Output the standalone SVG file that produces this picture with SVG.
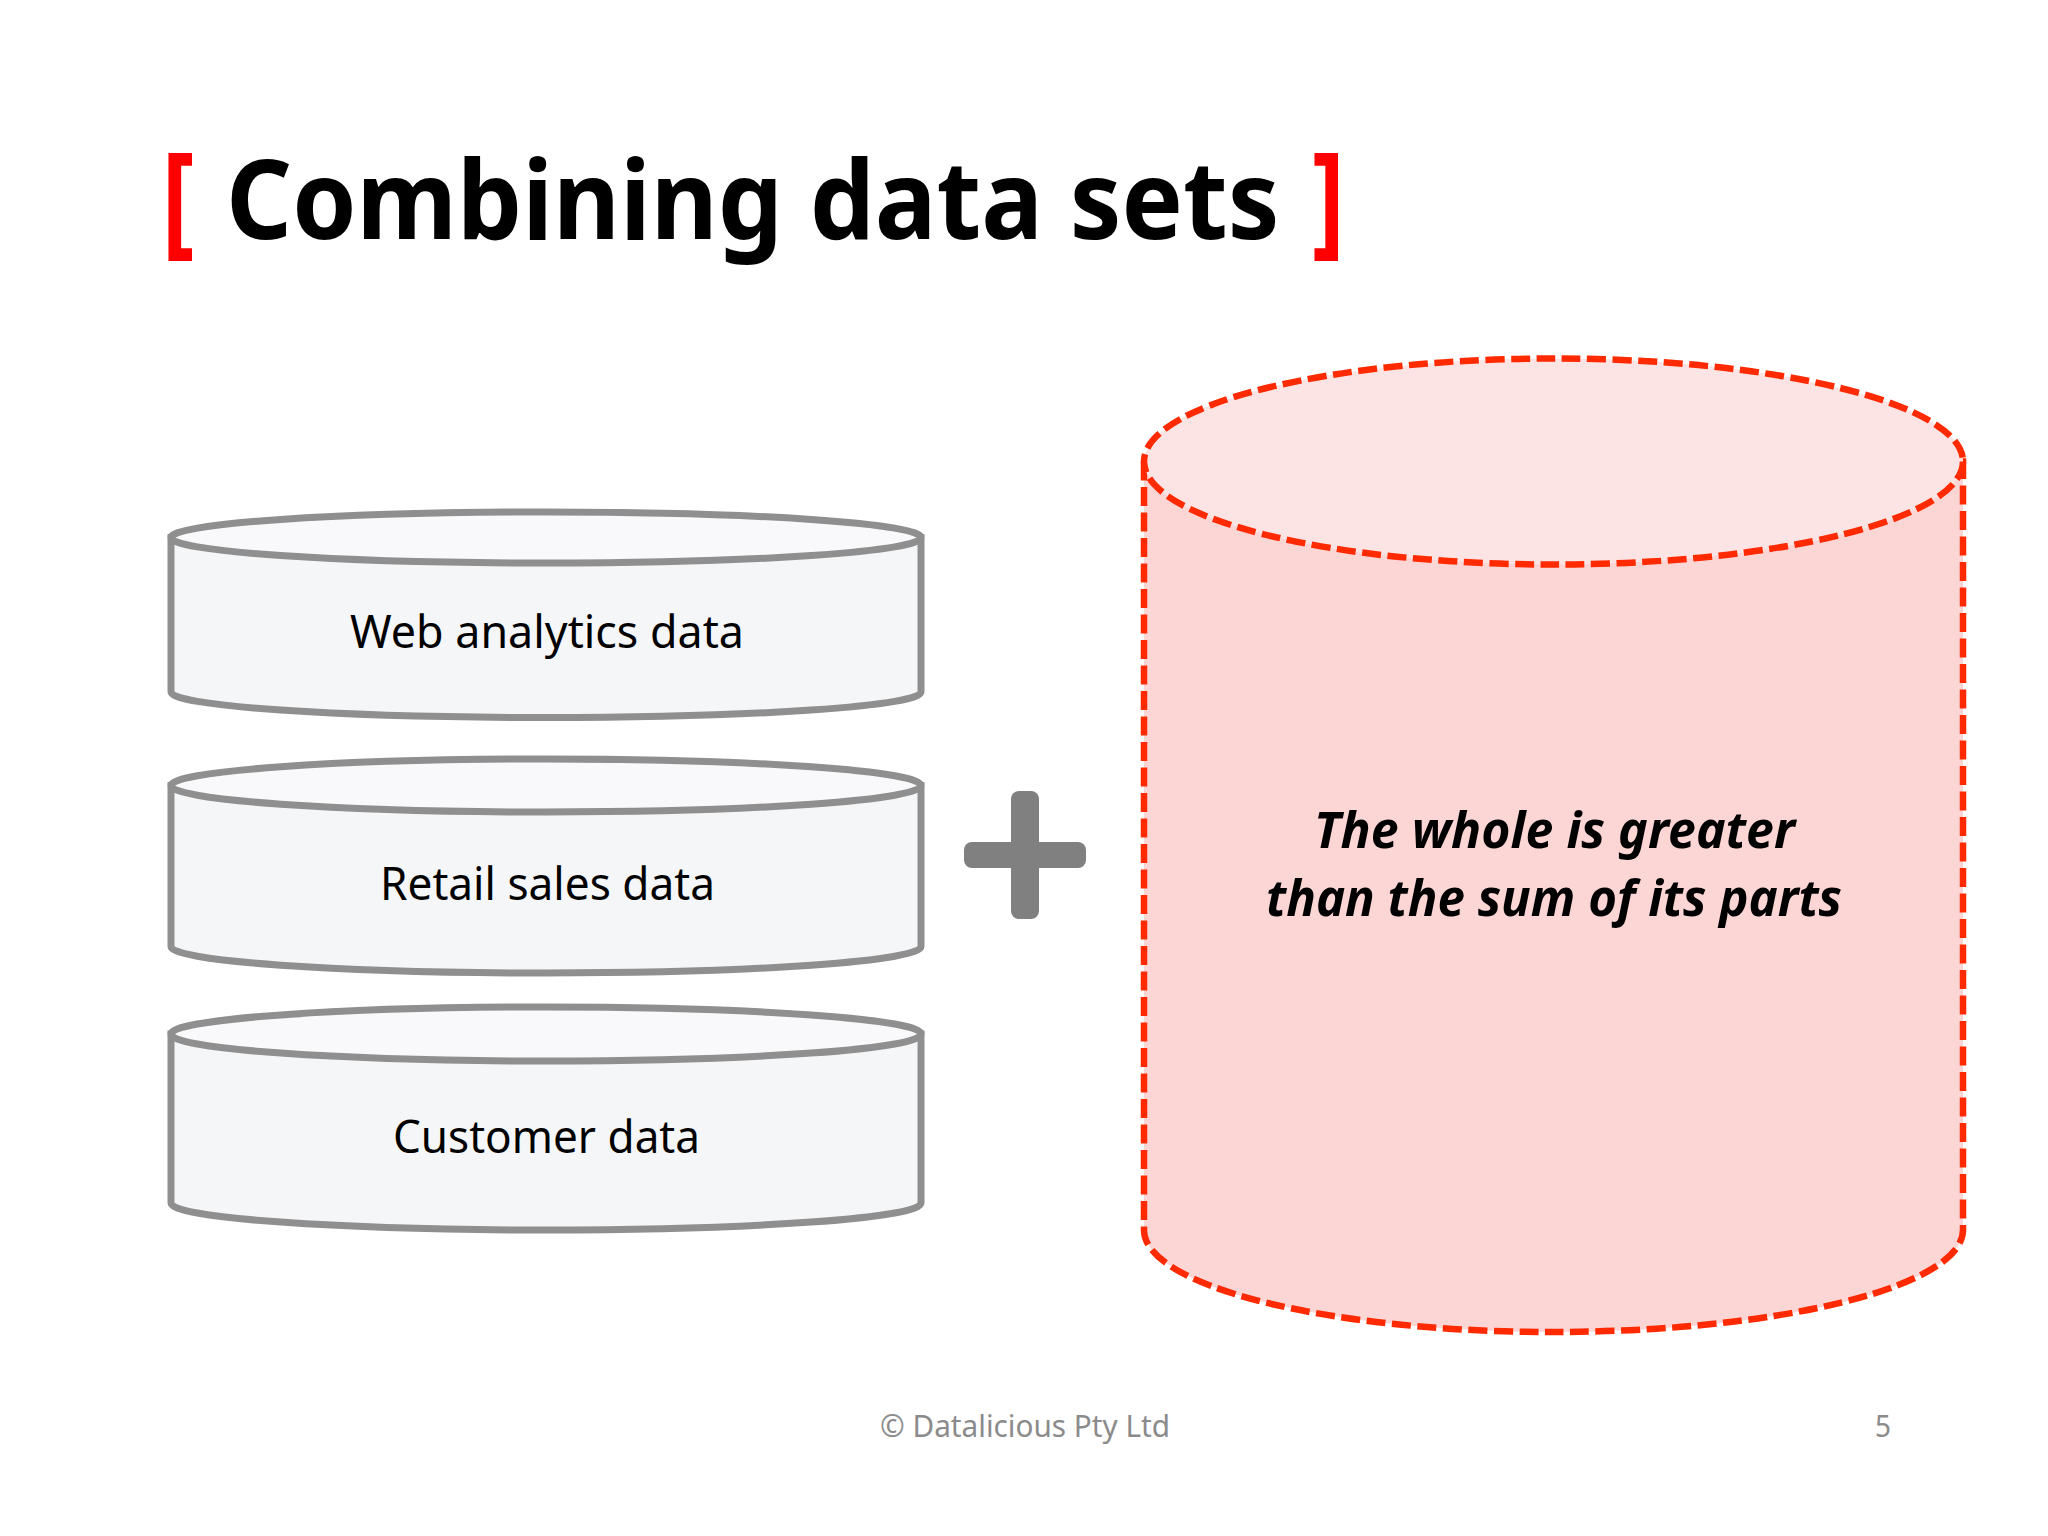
<svg xmlns="http://www.w3.org/2000/svg" width="2048" height="1536" viewBox="0 0 2048 1536">
<style>
text{font-family:"Noto Sans","Open Sans","Liberation Sans",sans-serif}
.body{fill:#f5f6f8;stroke:#8f8f8f;stroke-width:7}
.top{fill:#f9f9fb;stroke:#8f8f8f;stroke-width:7}
.rbody{fill:#fcd5d5;stroke:#ff2a00;stroke-width:6.500;stroke-dasharray:19 6.500}
.rtop{fill:#fde4e4;stroke:#ff2a00;stroke-width:6.500;stroke-dasharray:19 6.500}
.label{font-size:46px;fill:#000}
.big{font-size:50px;font-weight:700;font-style:italic;fill:#000}
.foot{font-size:31px;fill:#8b8b8b}
.title{font-size:110px;font-weight:700;fill:#000}
.br{font-size:123px;font-weight:700;fill:#ff0000}
</style>
<rect width="2048" height="1536" fill="#ffffff"/>
<g id="title">
<text class="br" x="161.500" y="241" textLength="33" lengthAdjust="spacingAndGlyphs">[</text>
<text class="title" transform="translate(226 239) scale(.937 1)">Combining data sets</text>
<text class="br" x="1312" y="241" textLength="33" lengthAdjust="spacingAndGlyphs">]</text>
</g>
<g id="web-analytics">
<path class="body" d="M171 537.500V692A375 25.500 0 0 0 921 692V537.500Z"/>
<ellipse class="top" cx="546" cy="537.500" rx="375" ry="25.500"/>
<text class="label" x="350" y="648" textLength="394" lengthAdjust="spacingAndGlyphs">Web analytics data</text>
</g>
<g id="retail-sales">
<path class="body" d="M171 785.500V946.500A375 26.500 0 0 0 921 946.500V785.500Z"/>
<ellipse class="top" cx="546" cy="785.500" rx="375" ry="26.500"/>
<text class="label" x="380" y="900" textLength="335" lengthAdjust="spacingAndGlyphs">Retail sales data</text>
</g>
<g id="customer">
<path class="body" d="M171 1034V1203A375 27 0 0 0 921 1203V1034Z"/>
<ellipse class="top" cx="546" cy="1034" rx="375" ry="27"/>
<text class="label" x="393" y="1153" textLength="307" lengthAdjust="spacingAndGlyphs">Customer data</text>
</g>
<g id="plus" fill="#808080">
<rect x="1011" y="791" width="28" height="128" rx="8"/>
<rect x="964" y="842" width="122" height="26" rx="8"/>
</g>
<g id="whole">
<path class="rbody" d="M1144 461.500V1230A409.500 102 0 0 0 1963 1230V461.500Z"/>
<ellipse class="rtop" cx="1553.500" cy="461.500" rx="409.500" ry="103"/>
<text class="big" x="1314" y="848" textLength="481" lengthAdjust="spacingAndGlyphs">The whole is greater</text>
<text class="big" x="1266" y="916" textLength="576" lengthAdjust="spacingAndGlyphs">than the sum of its parts</text>
</g>
<g id="footer">
<text class="foot" x="880" y="1437" textLength="290" lengthAdjust="spacingAndGlyphs">© Datalicious Pty Ltd</text>
<text class="foot" x="1875" y="1437" textLength="16" lengthAdjust="spacingAndGlyphs">5</text>
</g>
<g id="connectors"/>
</svg>
